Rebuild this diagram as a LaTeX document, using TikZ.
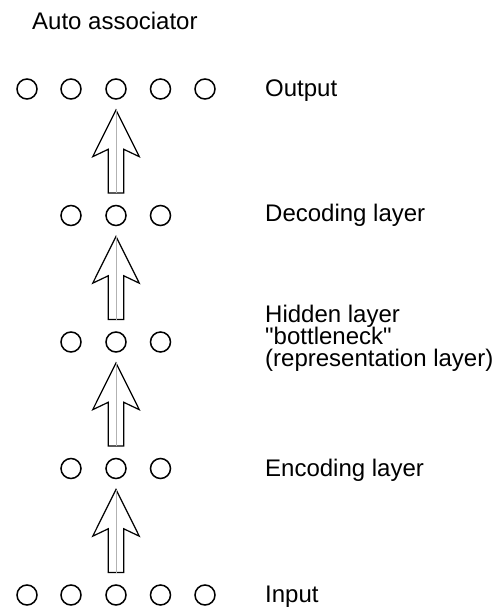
\documentclass[tikz,border=0pt]{standalone}
\usepackage{fontspec}
\setmainfont{Liberation Sans}[Ligatures=TeXOff]
\usetikzlibrary{calc}
\newcommand\blockarrow[2]{%
  \draw[barrow] ($(#1)+(0,21)$) -- ($(#1)+(23.3,67.7)$) -- ($(#1)+(7.8,60.3)$)
    -- ($(#2)+(7.8,-22.5)$) -- ($(#2)+(-7.8,-22.5)$) -- ($(#1)+(-7.8,60.3)$)
    -- ($(#1)+(-23.3,67.7)$) -- cycle;
  \draw[midline] ($(#1)+(0,21)$) -- ($(#2)+(0,-22.5)$);}
\begin{document}
\begin{tikzpicture}[x=1pt,y=-1pt,
  neuron/.style={circle,draw,line width=1.5pt,minimum size=20pt,inner sep=0pt},
  lbl/.style={anchor=base west,inner sep=0pt,font=\fontsize{24pt}{22pt}\selectfont},
  barrow/.style={draw=black,line width=1.2pt,line join=miter,fill=white},
  midline/.style={draw=black!30,line width=1pt}]
\useasboundingbox (0,0) rectangle (503,609);
% rows
\foreach \n/\x in {1/27,2/71,3/116,4/160.5,5/205} {
  \node[neuron] (o\n) at (\x,89) {};
  \node[neuron] (i\n) at (\x,595) {};
}
\foreach \n/\x in {2/71,3/116,4/160.5} {
  \node[neuron] (d\n) at (\x,215.5) {};
  \node[neuron] (h\n) at (\x,342) {};
  \node[neuron] (e\n) at (\x,468.5) {};
}
% block arrows
\blockarrow{o3}{d3}
\blockarrow{d3}{h3}
\blockarrow{h3}{e3}
\blockarrow{e3}{i3}
% labels
\node[lbl] (title) at (32,30) {Auto associator};
\node[lbl] (lout) at (265,97) {Output};
\node[lbl] (ldec) at (265,222) {Decoding layer};
\node[lbl] (lhid1) at (265,322.5) {Hidden layer};
\node[lbl] (lhid2) at (265,344.5) {"bottleneck"};
\node[lbl] (lhid3) at (265,366.5) {(representation layer)};
\node[lbl] (lenc) at (265,476) {Encoding layer};
\node[lbl] (linp) at (265,602) {Input};
\end{tikzpicture}
\end{document}
